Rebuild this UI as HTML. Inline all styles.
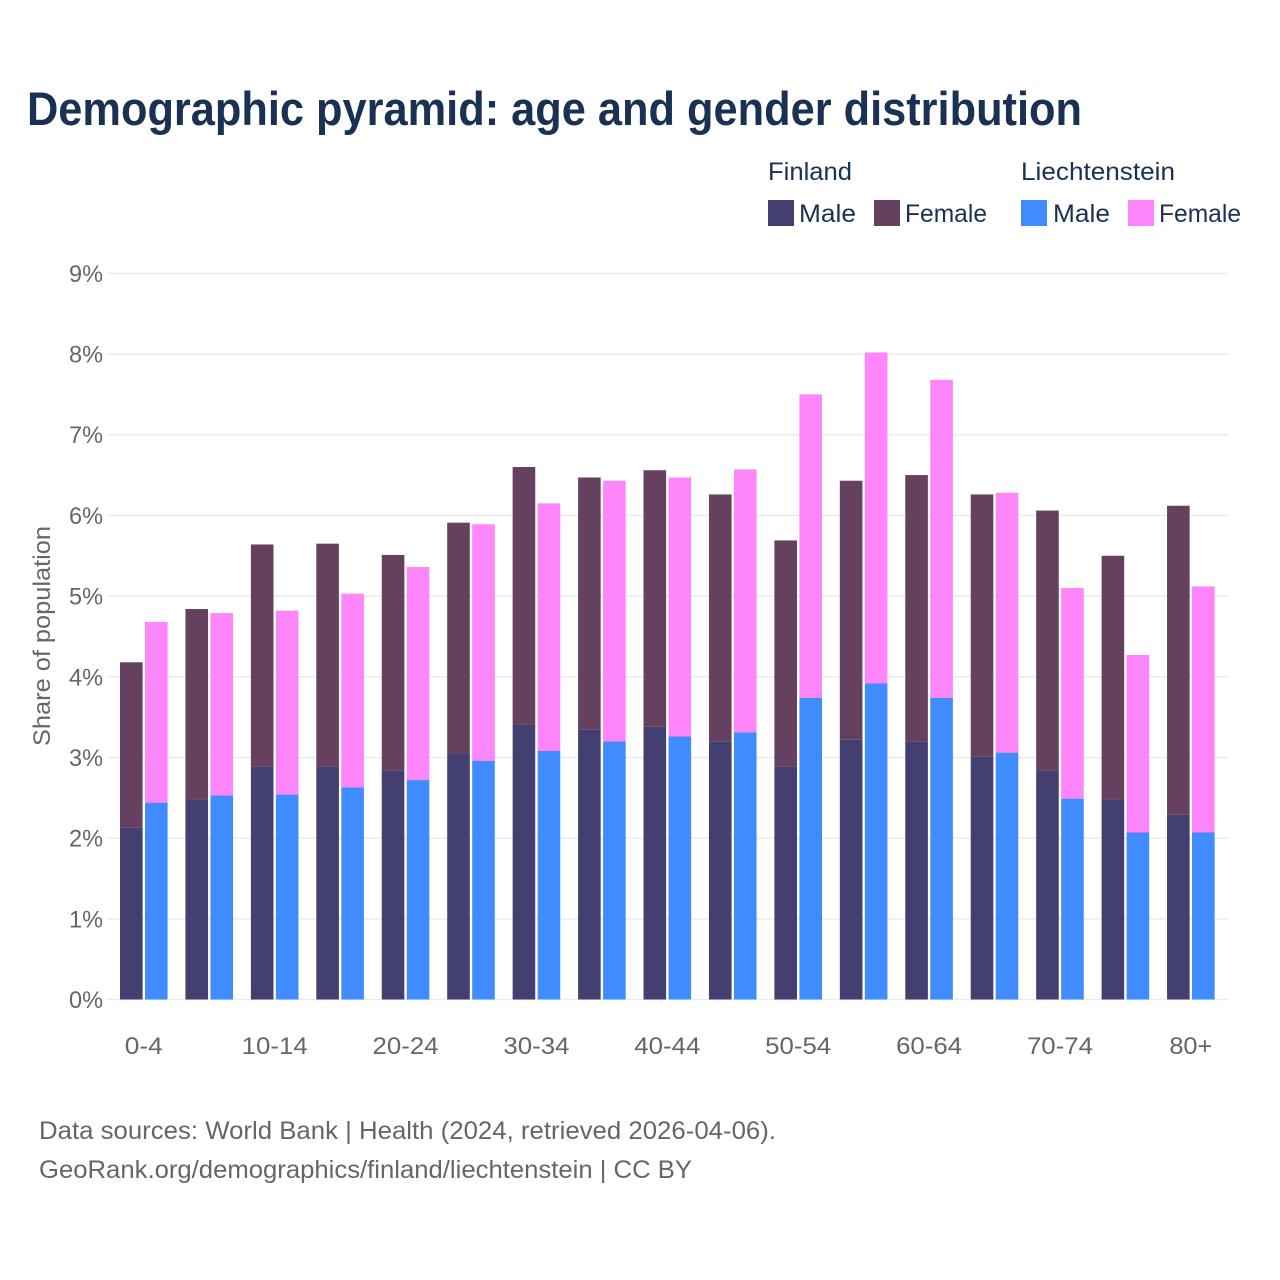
<!DOCTYPE html>
<html lang="en">
<head>
<meta charset="utf-8">
<title>Demographic pyramid: age and gender distribution</title>
<style>
html,body{margin:0;padding:0;background:#fff;width:1280px;height:1280px;overflow:hidden}
svg{display:block;font-family:"Liberation Sans",sans-serif}
</style>
</head>
<body>
<svg id="chart" width="1280" height="1280" viewBox="0 0 1280 1280" xmlns="http://www.w3.org/2000/svg">
  <rect width="1280" height="1280" fill="#ffffff"/>
  <text x="27" y="125" font-size="47" font-weight="700" fill="#193152" textLength="1055" lengthAdjust="spacingAndGlyphs">Demographic pyramid: age and gender distribution</text>

  <g font-size="25" fill="#193152">
    <text x="768" y="180" textLength="84" lengthAdjust="spacingAndGlyphs">Finland</text>
    <text x="1021" y="180" textLength="154" lengthAdjust="spacingAndGlyphs">Liechtenstein</text>
    <rect x="768" y="200" width="26" height="26" fill="#433f70"/>
    <text x="799" y="222" textLength="57" lengthAdjust="spacingAndGlyphs">Male</text>
    <rect x="874" y="200" width="26" height="26" fill="#66415f"/>
    <text x="905" y="222" textLength="82" lengthAdjust="spacingAndGlyphs">Female</text>
    <rect x="1021" y="200" width="26" height="26" fill="#408cff"/>
    <text x="1053" y="222" textLength="57" lengthAdjust="spacingAndGlyphs">Male</text>
    <rect x="1128" y="200" width="26" height="26" fill="#ff85fa"/>
    <text x="1159" y="222" textLength="82" lengthAdjust="spacingAndGlyphs">Female</text>
  </g>

  <g id="grid"></g>
  <g id="yticks"></g>
  <g id="bars"></g>
  <g id="xticks"></g>

  <text transform="translate(50,636) rotate(-90)" text-anchor="middle" font-size="24" fill="#666666" textLength="220" lengthAdjust="spacingAndGlyphs">Share of population</text>

  <text x="39" y="1139" font-size="25" fill="#666666" textLength="737" lengthAdjust="spacingAndGlyphs">Data sources: World Bank | Health (2024, retrieved 2026-04-06).</text>
  <text x="39" y="1178" font-size="25" fill="#666666" textLength="653" lengthAdjust="spacingAndGlyphs">GeoRank.org/demographics/finland/liechtenstein | CC BY</text>
</svg>
<script>
const categories = ["0-4","5-9","10-14","15-19","20-24","25-29","30-34","35-39","40-44","45-49","50-54","55-59","60-64","65-69","70-74","75-79","80+"];
const finlandMale = [2.13,2.48,2.89,2.89,2.84,3.05,3.41,3.35,3.38,3.20,2.89,3.22,3.20,3.01,2.84,2.48,2.29];
const finlandFemale = [2.05,2.36,2.75,2.76,2.67,2.86,3.19,3.12,3.18,3.06,2.80,3.21,3.30,3.25,3.22,3.02,3.83];
const liechtensteinMale = [2.44,2.53,2.54,2.63,2.72,2.96,3.08,3.20,3.26,3.31,3.74,3.92,3.74,3.06,2.49,2.07,2.07];
const liechtensteinFemale = [2.24,2.26,2.28,2.40,2.64,2.93,3.07,3.23,3.21,3.26,3.76,4.10,3.94,3.22,2.61,2.20,3.05];
const yTickValues = [0,1,2,3,4,5,6,7,8,9];
const xTickLabels = ["0-4","10-14","20-24","30-34","40-44","50-54","60-64","70-74","80+"];

const NS = "http://www.w3.org/2000/svg";
const yScale = v => 999.5 - v * 80.68;
const groupStart = i => 120 + i * 65.44;
const barWidth = 22.6;
const seriesOffset = 25;

function make(tag, attrs, parent) {
  const el = document.createElementNS(NS, tag);
  for (const k in attrs) el.setAttribute(k, attrs[k]);
  parent.appendChild(el);
  return el;
}

const grid = document.getElementById("grid");
const yticks = document.getElementById("yticks");
yTickValues.forEach(v => {
  const line = make("line", {x1:107, x2:1228, y1:yScale(v), y2:yScale(v), stroke:"#ebebeb", "stroke-width":1.5}, grid);
  
  
  const t = make("text", {x:103, y:yScale(v)+8.5, "text-anchor":"end", "font-size":24, fill:"#666666", textLength:34, lengthAdjust:"spacingAndGlyphs"}, yticks);
  
  
  t.textContent = v + "%";
});

const bars = document.getElementById("bars");
function stacked(i, offset, male, female, maleColor, femaleColor) {
  const x = groupStart(i) + offset;
  const m = make("rect", {x:x, width:barWidth, y:yScale(male), height:yScale(0)-yScale(male), fill:maleColor}, bars);
  
  
  const f = make("rect", {x:x, width:barWidth, y:yScale(male+female), height:yScale(male)-yScale(male+female), fill:femaleColor}, bars);
  
  
}
categories.forEach((c, i) => {
  stacked(i, 0, finlandMale[i], finlandFemale[i], "#433f70", "#66415f");
  stacked(i, seriesOffset, liechtensteinMale[i], liechtensteinFemale[i], "#408cff", "#ff85fa");
});

const xticks = document.getElementById("xticks");
xTickLabels.forEach(label => {
  const i = categories.indexOf(label);
  const t = make("text", {x:groupStart(i)+23.8, y:1054, "text-anchor":"middle", "font-size":24, fill:"#666666"}, xticks);
  
  
  t.setAttribute('textLength', label.length > 3 ? 66 : (label === "0-4" ? 38 : 43));
  t.setAttribute('lengthAdjust', 'spacingAndGlyphs');
  t.textContent = label;
});
</script>
</body>
</html>
